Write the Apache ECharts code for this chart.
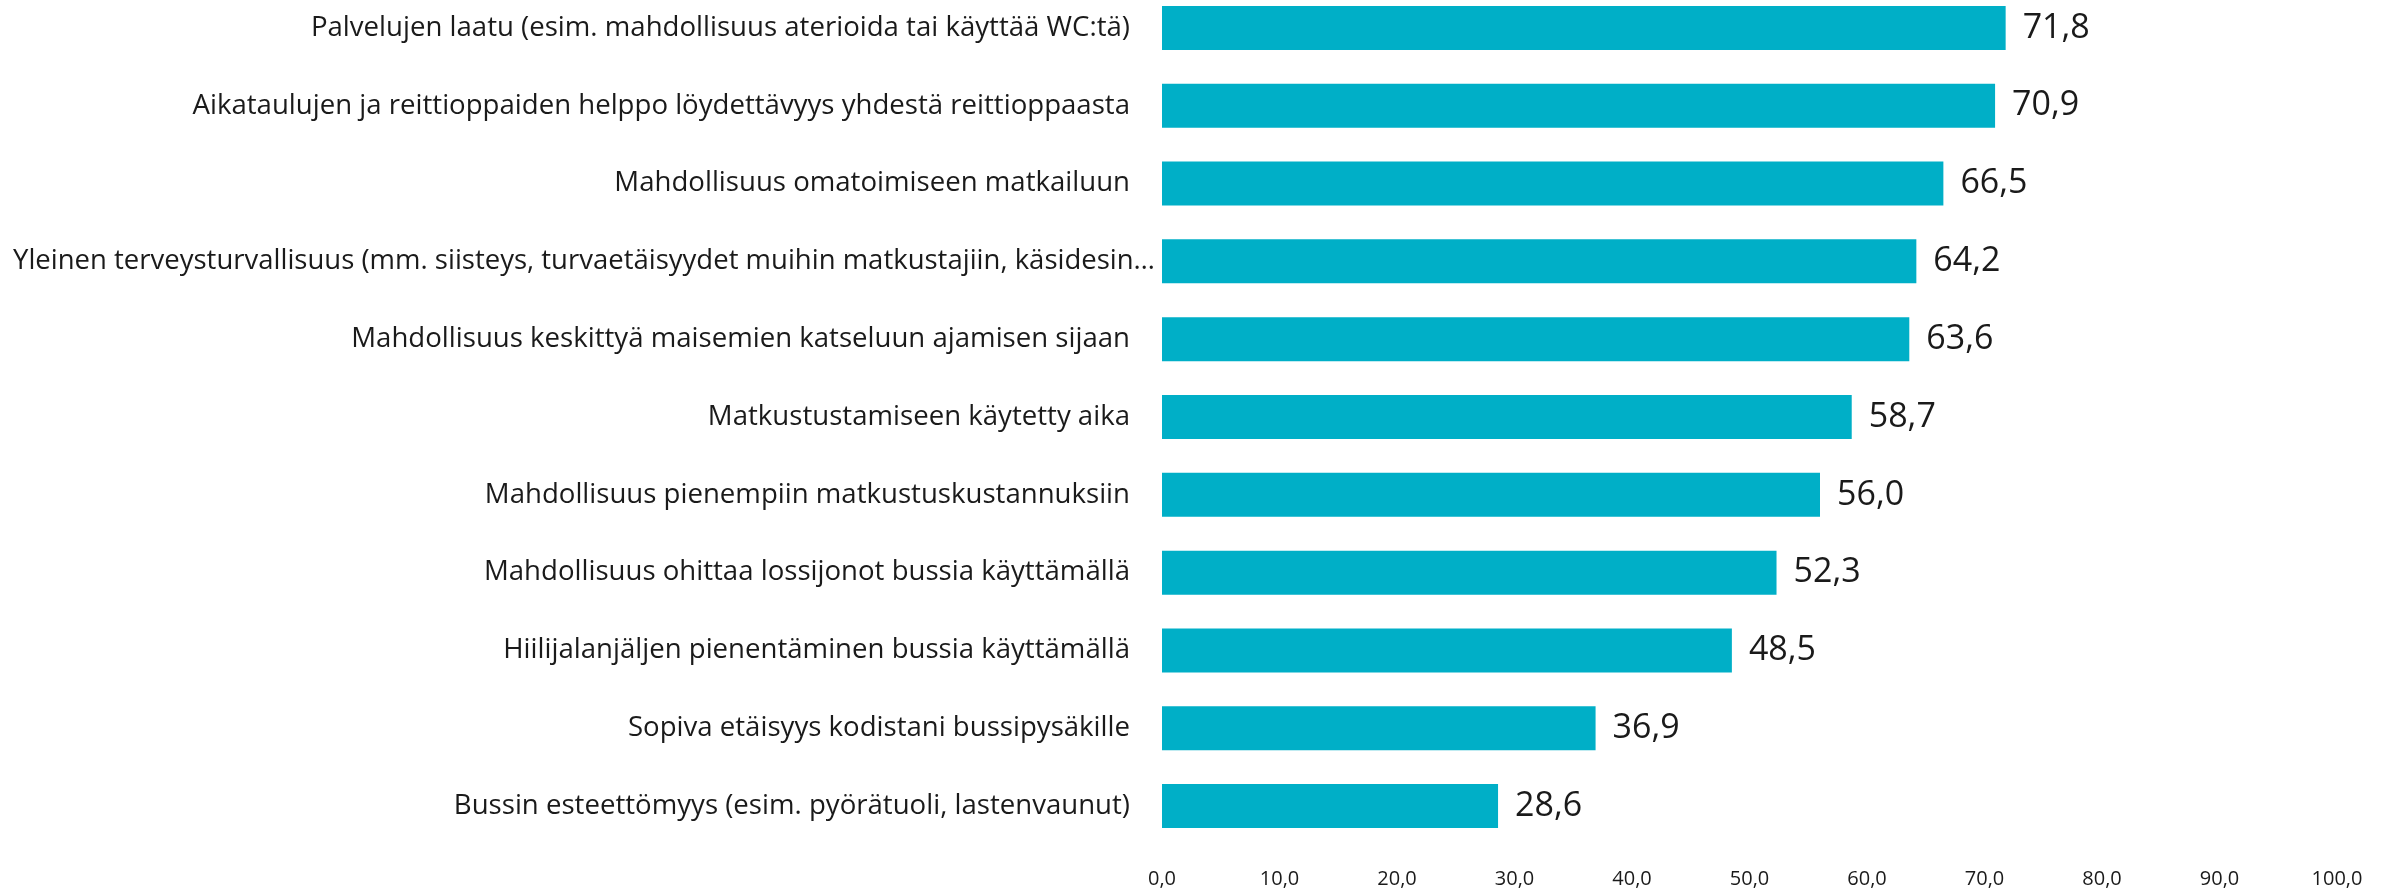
<!DOCTYPE html>
<html>
<head>
<meta charset="utf-8">
<title>Bussimatkailun tekijät</title>
<script src="https://cdn.jsdelivr.net/npm/echarts@6/dist/echarts.min.js"></script>
<style>
  html, body { margin: 0; padding: 0; background: #ffffff; }
  #chart { width: 2392px; height: 888px; }
</style>
</head>
<body>
<div id="chart"></div>
<script>
// Categories, top to bottom
const categories = [
  'Palvelujen laatu (esim. mahdollisuus aterioida tai käyttää WC:tä)',
  'Aikataulujen ja reittioppaiden helppo löydettävyys yhdestä reittioppaasta',
  'Mahdollisuus omatoimiseen matkailuun',
  'Yleinen terveysturvallisuus (mm. siisteys, turvaetäisyydet muihin matkustajiin, käsidesin…',
  'Mahdollisuus keskittyä maisemien katseluun ajamisen sijaan',
  'Matkustustamiseen käytetty aika',
  'Mahdollisuus pienempiin matkustuskustannuksiin',
  'Mahdollisuus ohittaa lossijonot bussia käyttämällä',
  'Hiilijalanjäljen pienentäminen bussia käyttämällä',
  'Sopiva etäisyys kodistani bussipysäkille',
  'Bussin esteettömyys (esim. pyörätuoli, lastenvaunut)'
];

// Values, same order as categories
const values = [71.8, 70.9, 66.5, 64.2, 63.6, 58.7, 56.0, 52.3, 48.5, 36.9, 28.6];

// Value axis range and step
const axisMin = 0;
const axisMax = 100;
const axisStep = 10;

const fmt = v => Number(v).toFixed(1).replace('.', ',');

// The shortened long label sits a little closer to the bars than the others
const categoryData = categories.map(name =>
  name.endsWith('…')
    ? { value: name, textStyle: { fontSize: 27.5, padding: [0, -25, 0, 0] } }
    : name
);

const chart = echarts.init(document.getElementById('chart'), null, { renderer: 'canvas' });

chart.setOption({
  animation: false,
  backgroundColor: '#ffffff',
  grid: {
    left: 1162, right: 55, top: -11, bottom: 43,
    containLabel: false,
    outerBoundsMode: 'none'
  },
  xAxis: {
    type: 'value',
    min: axisMin,
    max: axisMax,
    interval: axisStep,
    axisLine: { show: false },
    axisTick: { show: false },
    splitLine: { show: false },
    axisLabel: {
      formatter: fmt,
      margin: 24,
      fontFamily: 'Open Sans',
      fontSize: 20,
      color: '#1a1a1a'
    }
  },
  yAxis: {
    type: 'category',
    inverse: true,
    data: categoryData,
    axisLine: { show: false },
    axisTick: { show: false },
    splitLine: { show: false },
    axisLabel: {
      margin: 32,
      fontFamily: 'Open Sans',
      fontSize: 27.6,
      color: '#1a1a1a'
    }
  },
  series: [{
    type: 'bar',
    data: values,
    barWidth: 44,
    itemStyle: { color: '#00AFC7' },
    label: {
      show: true,
      position: 'right',
      distance: 17,
      formatter: p => fmt(p.value),
      fontFamily: 'Open Sans',
      fontSize: 34,
      color: '#1a1a1a'
    }
  }]
});
</script>
</body>
</html>
